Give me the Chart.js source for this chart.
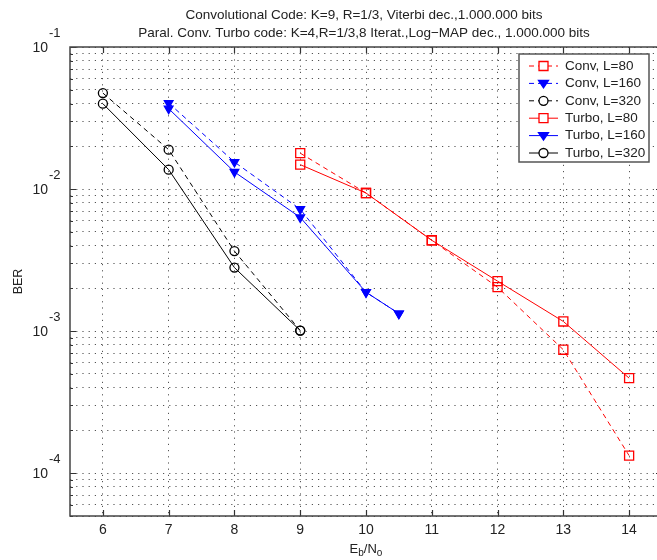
<!DOCTYPE html>
<html>
<head>
<meta charset="utf-8">
<script src="https://cdn.jsdelivr.net/npm/chart.js@4.4.0/dist/chart.umd.min.js"></script>
<style>
html, body { margin: 0; padding: 0; background: #fff; overflow: hidden; }
#wrap { position: relative; width: 670px; height: 560px; }
</style>
</head>
<body>
<div id="wrap"><canvas id="ber_chart" width="670" height="560"></canvas></div>
<script>
// title / labels
var titleLines = [
    'Convolutional Code: K=9, R=1/3, Viterbi dec.,1.000.000 bits',
    'Paral. Conv. Turbo code: K=4,R=1/3,8 Iterat.,Log\u2212MAP dec., 1.000.000 bits'
];
var yAxisLabel = 'BER';

// x ticks and y decades (log axis)
var xTicks = [6, 7, 8, 9, 10, 11, 12, 13, 14];
var yDecades = [-1, -2, -3, -4];
var yMultipliers = [1, 2, 3, 4, 5, 6, 7, 8, 9];

// series (Eb/No in dB, BER)
var convL80x = [9, 10, 11, 12, 13, 14];
var convL80y = [0.0179, 0.00938, 0.00436, 0.00204, 0.00074, 0.000133];
var turboL80x = [9, 10, 11, 12, 13, 14];
var turboL80y = [0.01486, 0.00938, 0.00436, 0.00225, 0.00117, 0.000467];

var convL160x = [7, 8, 9, 10, 10.5];
var convL160y = [0.0403, 0.0155, 0.00722, 0.00188, 0.00133];
var turboL160x = [7, 8, 9, 10, 10.5];
var turboL160y = [0.0368, 0.0132, 0.00632, 0.00188, 0.00133];

var convL320x = [6, 7, 8, 9];
var convL320y = [0.0474, 0.01895, 0.00366, 0.00101];
var turboL320x = [6, 7, 8, 9];
var turboL320y = [0.0399, 0.0137, 0.0028, 0.00101];

var yGrid = [];
[-5, -4, -3, -2].forEach(function (e) {
    yMultipliers.forEach(function (m) {
        var v = m * Math.pow(10, e);
        if (v >= 5e-5 - 1e-12 && v <= 0.1 + 1e-12) yGrid.push(v);
    });
});
yGrid.push(0.1);

var FONT = '"Liberation Sans", Arial, Helvetica, sans-serif';

function series(label, xs, ys, color, dashed, style) {
    var ds = {
        label: label,
        data: xs.map(function (x, i) { return { x: x, y: ys[i] }; }),
        borderColor: color,
        borderWidth: 1,
        borderDash: dashed ? [5, 4] : [],
        backgroundColor: 'transparent',
        pointBorderColor: color,
        pointBorderWidth: 1.3,
        pointBackgroundColor: 'transparent',
        tension: 0,
        fill: false,
        _dashed: dashed,
        _style: style
    };
    if (style === 'square') { ds.pointStyle = 'rect'; ds.pointRadius = 6.4; }
    if (style === 'tri') { ds.pointStyle = 'triangle'; ds.pointRadius = 5; ds.pointRotation = 180; ds.pointBackgroundColor = color; }
    if (style === 'circle') { ds.pointStyle = 'circle'; ds.pointRadius = 4.5; }
    return ds;
}

var datasets = [
    series('Conv, L=80', convL80x, convL80y, 'rgb(255,0,0)', true, 'square'),
    series('Conv, L=160', convL160x, convL160y, 'rgb(0,0,255)', true, 'tri'),
    series('Conv, L=320', convL320x, convL320y, '#000', true, 'circle'),
    series('Turbo, L=80', turboL80x, turboL80y, 'rgb(255,0,0)', false, 'square'),
    series('Turbo, L=160', turboL160x, turboL160y, 'rgb(0,0,255)', false, 'tri'),
    series('Turbo, L=320', turboL320x, turboL320y, '#000', false, 'circle')
];

function legendMarker(ctx, style, x, y, color) {
    ctx.setLineDash([]);
    ctx.strokeStyle = color;
    ctx.fillStyle = color;
    ctx.lineWidth = 1.3;
    ctx.beginPath();
    if (style === 'square') {
        ctx.rect(x - 4.5, y - 4.5, 9, 9);
        ctx.fillStyle = '#fff';
        ctx.fill();
        ctx.stroke();
    } else if (style === 'tri') {
        ctx.moveTo(x - 5, y - 3);
        ctx.lineTo(x + 5, y - 3);
        ctx.lineTo(x, y + 4.5);
        ctx.closePath();
        ctx.fill();
        ctx.stroke();
    } else {
        ctx.arc(x, y, 4.5, 0, Math.PI * 2);
        ctx.fillStyle = '#fff';
        ctx.fill();
        ctx.stroke();
    }
}

var matlabAxes = {
    id: 'matlabAxes',
    afterDatasetsDraw: function (chart) {
        var ctx = chart.ctx, a = chart.chartArea;
        var xs = chart.scales.x, ys = chart.scales.y;
        ctx.save();
        ctx.setLineDash([]);

        // ticks
        ctx.strokeStyle = '#333';
        ctx.lineWidth = 1.2;
        xTicks.forEach(function (v) {
            var px = Math.round(xs.getPixelForValue(v)) + 0.5;
            ctx.beginPath();
            ctx.moveTo(px, a.bottom); ctx.lineTo(px, a.bottom - 6);
            ctx.moveTo(px, a.top); ctx.lineTo(px, a.top + 6);
            ctx.stroke();
        });
        yGrid.forEach(function (v) {
            var py = Math.round(ys.getPixelForValue(v)) + 0.5;
            var major = Math.abs(Math.log10(v) - Math.round(Math.log10(v))) < 1e-6;
            var len = major ? 6 : 3;
            ctx.beginPath();
            ctx.moveTo(a.left, py); ctx.lineTo(a.left + len, py);
            ctx.moveTo(a.right, py); ctx.lineTo(a.right - len, py);
            ctx.stroke();
        });

        // frame
        ctx.strokeStyle = '#444';
        ctx.lineWidth = 1.5;
        ctx.strokeRect(a.left, a.top, a.right - a.left, a.bottom - a.top);

        // x tick labels
        ctx.fillStyle = '#222';
        ctx.font = '14px ' + FONT;
        ctx.textAlign = 'center';
        ctx.textBaseline = 'middle';
        xTicks.forEach(function (v) {
            ctx.fillText(String(v), xs.getPixelForValue(v), a.bottom + 14);
        });

        // y tick labels 10^n
        yDecades.forEach(function (e) {
            var py = ys.getPixelForValue(Math.pow(10, e));
            ctx.font = '14px ' + FONT;
            ctx.textAlign = 'right';
            ctx.fillText('10', 48, py + 1);
            ctx.font = '13px ' + FONT;
            ctx.textAlign = 'left';
            ctx.fillText(String(e), 49, py - 14);
        });

        // axis labels
        var cx = (a.left + a.right) / 2;
        ctx.textAlign = 'left';
        ctx.font = '13px ' + FONT;
        var parts = [['E', 0], ['b', 4], ['/N', 0], ['o', 4]];
        var widths = parts.map(function (p) {
            ctx.font = (p[1] ? '10px ' : '13px ') + FONT;
            return ctx.measureText(p[0]).width;
        });
        var total = widths.reduce(function (s, w) { return s + w; }, 0);
        var x0 = cx - total / 2;
        parts.forEach(function (p, i) {
            ctx.font = (p[1] ? '10px ' : '13px ') + FONT;
            ctx.fillText(p[0], x0, 549 + p[1]);
            x0 += widths[i];
        });

        ctx.save();
        ctx.translate(19, (a.top + a.bottom) / 2);
        ctx.rotate(-Math.PI / 2);
        ctx.textAlign = 'center';
        ctx.font = '12.5px ' + FONT;
        ctx.fillText(yAxisLabel, 0, 0);
        ctx.restore();

        // title
        ctx.textAlign = 'center';
        ctx.font = '13.5px ' + FONT;
        ctx.fillStyle = '#222';
        ctx.fillText(titleLines[0], cx - 2, 15);
        ctx.fillText(titleLines[1], cx - 2, 33);

        ctx.restore();
    },
    afterDraw: function (chart) {
        var ctx = chart.ctx;
        ctx.save();
        var bx = 519, by = 54, bw = 130, bh = 108;
        ctx.fillStyle = '#fff';
        ctx.fillRect(bx, by, bw, bh);
        ctx.strokeStyle = '#555';
        ctx.lineWidth = 1.5;
        ctx.setLineDash([]);
        ctx.strokeRect(bx, by, bw, bh);
        datasets.forEach(function (ds, i) {
            var y = 66 + i * 17.4;
            ctx.strokeStyle = ds.borderColor;
            ctx.lineWidth = 1;
            ctx.setLineDash(ds._dashed ? [5, 4] : []);
            ctx.beginPath();
            ctx.moveTo(529, y);
            ctx.lineTo(558, y);
            ctx.stroke();
            legendMarker(ctx, ds._style, 543.5, y, ds.borderColor);
            ctx.fillStyle = '#222';
            ctx.font = '13.5px ' + FONT;
            ctx.textAlign = 'left';
            ctx.textBaseline = 'middle';
            ctx.fillText(ds.label, 565, y);
        });
        ctx.restore();
    }
};

var berChart = document.getElementById('ber_chart').getContext('2d');
var chart = new Chart(berChart, {
    type: 'line',
    data: { datasets: datasets },
    options: {
        responsive: false,
        animation: false,
        layout: { padding: { left: 70, top: 47, right: 8, bottom: 44 } },
        plugins: { legend: { display: false }, title: { display: false }, tooltip: { enabled: false } },
        scales: {
            x: {
                type: 'linear',
                min: 5.5,
                max: 14.5,
                afterBuildTicks: function (scale) {
                    scale.ticks = xTicks.map(function (v) { return { value: v }; });
                },
                afterFit: function (scale) { scale.height = 0; },
                ticks: { display: false },
                grid: { color: '#555', lineWidth: 1, drawTicks: false },
                border: { display: false, dash: [1.2, 5] }
            },
            y: {
                type: 'logarithmic',
                min: 5e-5,
                max: 0.1,
                afterBuildTicks: function (scale) {
                    scale.ticks = yGrid.map(function (v) { return { value: v }; });
                },
                afterFit: function (scale) { scale.width = 0; },
                ticks: { display: false },
                grid: { color: '#555', lineWidth: 1, drawTicks: false },
                border: { display: false, dash: [1.2, 5] }
            }
        }
    },
    plugins: [matlabAxes]
});
</script>
</body>
</html>
